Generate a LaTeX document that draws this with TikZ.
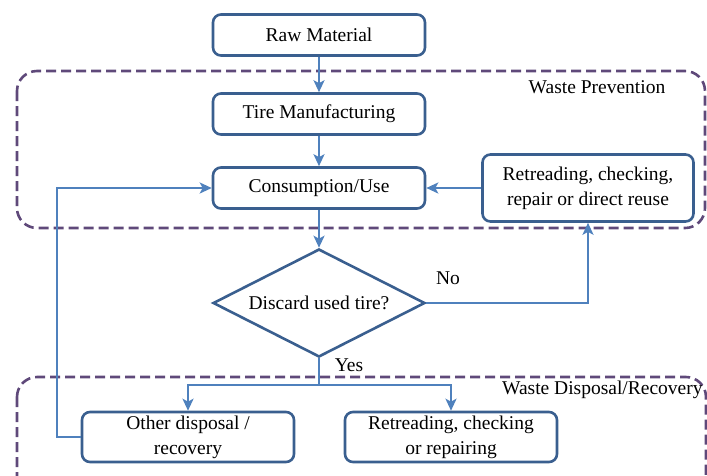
\documentclass[tikz,border=0pt]{standalone}
\usepackage{fontspec}
\setmainfont{Liberation Serif}
\usetikzlibrary{arrows.meta,shapes.geometric}
\definecolor{boxblue}{HTML}{3A5F8F}
\definecolor{linkblue}{HTML}{4F81BD}
\definecolor{regpurple}{HTML}{5F497A}
\tikzset{
  procbox/.style={draw=boxblue,line width=2.6pt,rounded corners=8pt,fill=white,
    minimum width=212pt,minimum height=41pt,align=center,inner sep=2pt,
    font=\fontsize{19.5}{25}\selectfont},
  decbox/.style={draw=boxblue,line width=2.6pt,diamond,shape aspect=1.96,fill=white,
    minimum width=212pt,minimum height=108pt,inner sep=0pt,align=center,
    font=\fontsize{19.5}{25}\selectfont},
  link/.style={draw=linkblue,line width=2.2pt},
  arr/.style={link,-{Stealth[length=12pt,width=11pt,inset=3pt]}},
  region/.style={draw=regpurple,line width=2.6pt,dash pattern=on 10pt off 5pt,rounded corners=20pt},
  lbl/.style={font=\fontsize{19.5}{25}\selectfont,inner sep=0pt}
}
\begin{document}
\begin{tikzpicture}[x=1pt,y=-1pt]
\useasboundingbox (0,0) rectangle (707,475);
\clip (0,0) rectangle (707,475);
% regions
\draw[region] (17,71) rectangle (705,228);
\draw[region] (17,377) rectangle (706,520);
\node[lbl,anchor=center] (wp) at (597,87) {Waste Prevention};
\node[lbl,anchor=west] (wd) at (502,390) {Waste Disposal/Recovery};
% nodes
\node[procbox] (raw) at (319,35) {Raw Material};
\node[procbox] (tm) at (319,114) {Tire Manufacturing};
\node[procbox] (cu) at (319,188) {Consumption/Use};
\node[procbox,minimum width=211pt,minimum height=67pt] (rr) at (588,188) {Retreading, checking,\\repair or direct reuse};
\node[decbox] (dec) at (319,303) {Discard used tire?};
\node[procbox,minimum height=50pt] (od) at (188,437) {Other disposal /\\recovery};
\node[procbox,minimum height=50pt] (rc) at (451,437) {Retreading, checking\\or repairing};
\coordinate (br) at (319,385);
\coordinate (fb) at (57,437);
% connectors
\draw[arr] (raw.south) -- (tm.north);
\draw[arr] (tm.south) -- (cu.north);
\draw[arr] (cu.south) -- (dec.north);
\draw[arr] (rr.west) -- (cu.east);
\draw[arr] (dec.east) -| (rr.south);
\draw[link] (dec.south) -- (br);
\draw[arr] (br) -| (od.north);
\draw[arr] (br) -| (rc.north);
\draw[arr] (od.west) -- (fb) |- (cu.west);
\node[lbl] (no) at (448,278) {No};
\node[lbl] (yes) at (349,365) {Yes};
\end{tikzpicture}
\end{document}
